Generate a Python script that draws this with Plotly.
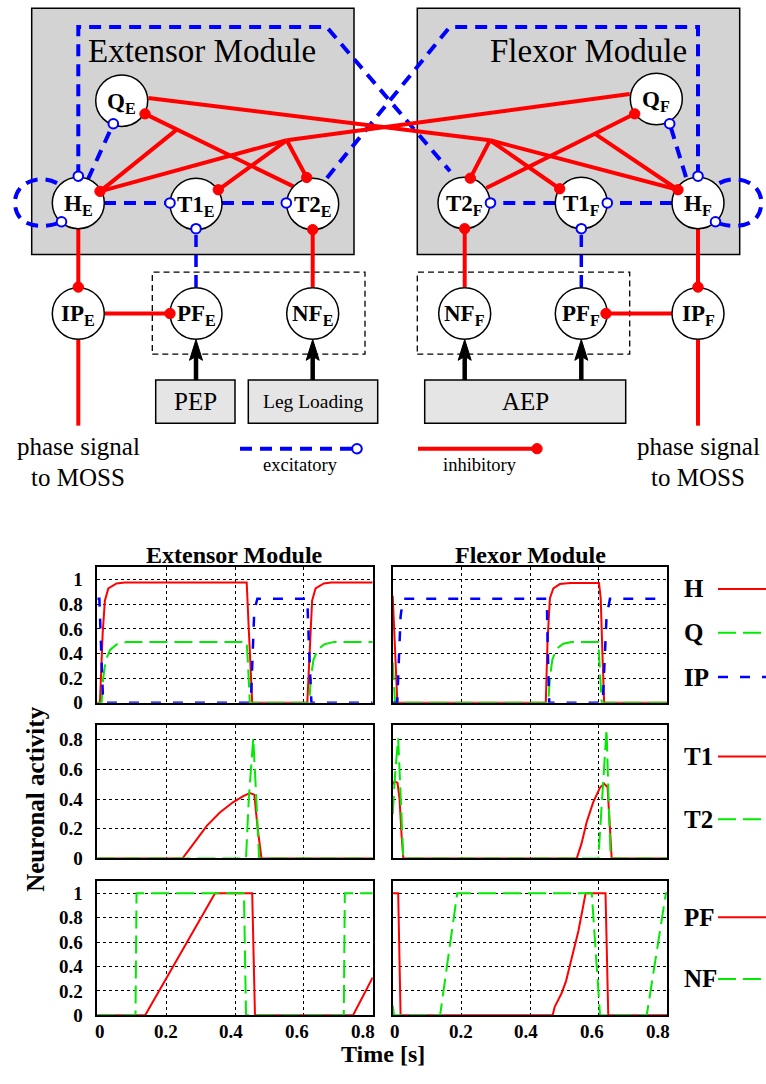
import plotly.graph_objects as go

W, H = 766, 1084

# ---------------- data ----------------
X_TICKS = [0, 0.2, 0.4, 0.6, 0.8]
X_TICK_LABELS = ["0", "0.2", "0.4", "0.6", "0.8"]
Y_TICKS_A = [0, 0.2, 0.4, 0.6, 0.8, 1]
Y_TICK_LABELS_A = ["0", "0.2", "0.4", "0.6", "0.8", "1"]
Y_TICKS_B = [0, 0.2, 0.4, 0.6, 0.8]
Y_TICK_LABELS_B = ["0", "0.2", "0.4", "0.6", "0.8"]

# Extensor module
EXT_H_T = [0, 0.0077, 0.0155, 0.022, 0.032, 0.056, 0.08, 0.434, 0.44, 0.45, 0.61, 0.618, 0.624, 0.634, 0.658, 0.68, 0.8]
EXT_H_V = [0, 0, 0.56, 0.83, 0.93, 0.97, 0.978, 0.978, 0.6, 0, 0, 0.56, 0.83, 0.93, 0.97, 0.978, 0.978]
EXT_Q_T = [0, 0.0126, 0.017, 0.025, 0.037, 0.056, 0.085, 0.434, 0.438, 0.443, 0.616, 0.62, 0.628, 0.64, 0.659, 0.688, 0.8]
EXT_Q_V = [0, 0, 0.2, 0.35, 0.43, 0.475, 0.495, 0.495, 0.3, 0, 0, 0.2, 0.35, 0.43, 0.475, 0.495, 0.495]
EXT_IP_T = [0, 0.006, 0.011, 0.017, 0.446, 0.451, 0.456, 0.465, 0.61, 0.615, 0.622, 0.8]
EXT_IP_V = [0.846, 0.846, 0.45, 0, 0, 0.4, 0.75, 0.846, 0.846, 0.45, 0, 0]
EXT_T1_T = [0, 0.247, 0.27, 0.29, 0.318, 0.356, 0.395, 0.424, 0.443, 0.456, 0.466, 0.477, 0.8]
EXT_T1_V = [0, 0, 0.07, 0.135, 0.22, 0.31, 0.38, 0.42, 0.44, 0.43, 0.2, 0, 0]
EXT_T2_T = [0, 0.432, 0.44, 0.453, 0.462, 0.47, 0.8]
EXT_T2_V = [0, 0, 0.4, 0.81, 0.4, 0, 0]
EXT_PF_T = [0, 0.139, 0.342, 0.45, 0.458, 0.743, 0.8]
EXT_PF_V = [0, 0, 1, 1, 0, 0, 0.31]
EXT_NF_T = [0, 0.111, 0.114, 0.426, 0.432, 0.716, 0.719, 0.8]
EXT_NF_V = [0, 0, 1, 1, 0, 0, 1, 1]

# Flexor module
FLX_H_T = [0, 0.006, 0.0136, 0.446, 0.451, 0.458, 0.468, 0.487, 0.517, 0.601, 0.606, 0.611, 0.616, 0.8]
FLX_H_V = [0.87, 0.5, 0, 0, 0.5, 0.85, 0.93, 0.965, 0.973, 0.973, 0.85, 0.4, 0, 0]
FLX_Q_T = [0, 0.004, 0.007, 0.453, 0.458, 0.465, 0.478, 0.497, 0.521, 0.599, 0.603, 0.609, 0.8]
FLX_Q_V = [0.33, 0.15, 0, 0, 0.2, 0.35, 0.44, 0.48, 0.495, 0.495, 0.3, 0, 0]
FLX_IP_T = [0, 0.013, 0.018, 0.023, 0.03, 0.449, 0.452, 0.456, 0.612, 0.617, 0.623, 0.633, 0.8]
FLX_IP_V = [0, 0, 0.35, 0.7, 0.846, 0.846, 0.4, 0, 0, 0.35, 0.7, 0.846, 0.846]
FLX_T1_T = [0, 0.006, 0.014, 0.02, 0.026, 0.031, 0.536, 0.55, 0.565, 0.584, 0.604, 0.616, 0.626, 0.632, 0.638, 0.8]
FLX_T1_V = [0.5, 0.52, 0.51, 0.4, 0.15, 0, 0, 0.1, 0.244, 0.378, 0.478, 0.504, 0.48, 0.25, 0, 0]
FLX_T2_T = [0, 0.008, 0.016, 0.024, 0.031, 0.599, 0.61, 0.623, 0.629, 0.635, 0.8]
FLX_T2_V = [0.3, 0.6, 0.81, 0.4, 0, 0, 0.4, 0.87, 0.4, 0, 0]
FLX_PF_T = [0, 0.016, 0.023, 0.466, 0.472, 0.48, 0.492, 0.505, 0.516, 0.53, 0.541, 0.552, 0.562, 0.62, 0.628, 0.8]
FLX_PF_V = [1, 1, 0, 0, 0.07, 0.11, 0.18, 0.28, 0.4, 0.55, 0.69, 0.85, 1, 1, 0, 0]
FLX_NF_T = [0, 0.004, 0.138, 0.188, 0.58, 0.604, 0.74, 0.796, 0.8]
FLX_NF_V = [0.08, 0, 0, 1, 1, 0, 0, 1, 1]

# ---------------- styles ----------------
RED = "rgb(255,0,0)"
GREEN = "rgb(0,235,0)"
BLUE = "rgb(0,0,255)"
SERIF = "Liberation Serif"
STY_RED = dict(color=RED, width=2)
STY_GREEN = dict(color=GREEN, width=2, dash="18px,7px")
STY_BLUE = dict(color=BLUE, width=2.5, dash="10px,12px")

COLS = [(97.3, 372.7), (392.7, 667.3)]
ROWS = [(573.3, 710.0), (732.3, 867.3), (890.0, 1025.7)]


def X(px):
    return px / W


def Y(py):
    return 1 - py / H


fig = go.Figure()

panels = {
    (0, 0): [(EXT_H_T, EXT_H_V, STY_RED), (EXT_Q_T, EXT_Q_V, STY_GREEN), (EXT_IP_T, EXT_IP_V, STY_BLUE)],
    (0, 1): [(FLX_H_T, FLX_H_V, STY_RED), (FLX_Q_T, FLX_Q_V, STY_GREEN), (FLX_IP_T, FLX_IP_V, STY_BLUE)],
    (1, 0): [(EXT_T1_T, EXT_T1_V, STY_RED), (EXT_T2_T, EXT_T2_V, STY_GREEN)],
    (1, 1): [(FLX_T1_T, FLX_T1_V, STY_RED), (FLX_T2_T, FLX_T2_V, STY_GREEN)],
    (2, 0): [(EXT_PF_T, EXT_PF_V, STY_RED), (EXT_NF_T, EXT_NF_V, STY_GREEN)],
    (2, 1): [(FLX_PF_T, FLX_PF_V, STY_RED), (FLX_NF_T, FLX_NF_V, STY_GREEN)],
}

shapes = []
annotations = []


def add_text(x, y, text, size, bold=False, anchor="center"):
    font = dict(family=SERIF, size=size, color="black")
    if bold:
        font["weight"] = "bold"
    annotations.append(dict(xref="paper", yref="paper", x=X(x), y=Y(y), text=text,
                            showarrow=False, xanchor=anchor, yanchor="middle", font=font))


TICKFONT = dict(family=SERIF, size=19, color="black", weight="bold")
layout_axes = {}
for (r, c), series in panels.items():
    k = r * 2 + c + 1
    xs = "x" if k == 1 else f"x{k}"
    ys = "y" if k == 1 else f"y{k}"
    for t, v, sty in series:
        fig.add_trace(go.Scatter(x=t, y=v, mode="lines", line=sty, xaxis=xs, yaxis=ys,
                                 showlegend=False, hoverinfo="skip"))
    x0, x1 = COLS[c]
    y0, y1 = ROWS[r]
    common = dict(showline=True, mirror=True, linecolor="black", linewidth=1.5,
                  showgrid=True, gridcolor="black", griddash="dot", gridwidth=1,
                  zeroline=False, ticks="", tickfont=TICKFONT, fixedrange=True)
    layout_axes["xaxis" if k == 1 else f"xaxis{k}"] = dict(
        domain=[X(x0), X(x1)], range=[0, 0.8], anchor=ys,
        tickvals=X_TICKS, showticklabels=False, **common)
    if r == 2:
        # x tick labels, placed on the axis scale; the reference squeezes them slightly inwards
        for tv, tl in zip(X_TICKS, X_TICK_LABELS):
            annotations.append(dict(xref=xs, yref="paper", x=tv, y=Y(1041.7), text=tl,
                                    showarrow=False, xanchor="center", yanchor="middle",
                                    xshift=2.5 - 15.3 * tv, font=TICKFONT))
    yt, yl = (Y_TICKS_B, Y_TICK_LABELS_B) if r == 1 else (Y_TICKS_A, Y_TICK_LABELS_A)
    layout_axes["yaxis" if k == 1 else f"yaxis{k}"] = dict(
        domain=[Y(y1), Y(y0)], range=[0, 0.9] if r == 1 else [0, 1.1], anchor=xs,
        tickvals=yt, ticktext=yl, showticklabels=(c == 0), ticklabelstandoff=9, **common)

# ---------------- diagram helpers ----------------


def pathstr(pts, closed=False):
    s = "M " + " L ".join(f"{X(a):.5f},{Y(b):.5f}" for a, b in pts)
    return s + (" Z" if closed else "")


def add_line(pts, color, width, dash=None):
    ln = dict(color=color, width=width)
    if dash:
        ln["dash"] = dash
    shapes.append(dict(type="path", xref="paper", yref="paper", path=pathstr(pts), line=ln,
                       layer="above"))


def add_curve(path, color, width, dash=None):
    shapes.append(dict(type="path", xref="paper", yref="paper", path=path,
                       line=dict(color=color, width=width, dash=dash), layer="above"))


def add_circle(cx, cy, r, fill, lc, lw):
    shapes.append(dict(type="circle", xref="paper", yref="paper",
                       x0=X(cx - r), x1=X(cx + r), y0=Y(cy + r), y1=Y(cy - r),
                       fillcolor=fill, line=dict(color=lc, width=lw), layer="above"))


def add_rect(x0, y0, x1, y1, fill, lc, lw, dash=None):
    ln = dict(color=lc, width=lw)
    if dash:
        ln["dash"] = dash
    shapes.append(dict(type="rect", xref="paper", yref="paper",
                       x0=X(x0), x1=X(x1), y0=Y(y1), y1=Y(y0),
                       fillcolor=fill, line=ln, layer="above"))


def curve(cmds):
    out = []
    for cmd in cmds:
        op, pts = cmd[0], cmd[1:]
        out.append(op + " " + " ".join(f"{X(a):.5f},{Y(b):.5f}" for a, b in pts))
    return " ".join(out)


BDASH = "12px,8px"
R_NODE = 26

# module boxes
add_rect(31.7, 8.3, 354, 257, "rgb(211,211,211)", "black", 1.5)
add_rect(417.3, 8.3, 739.7, 257, "rgb(211,211,211)", "black", 1.5)
# sensory dashed boxes
add_rect(152.3, 275, 365, 357.7, "rgba(0,0,0,0)", "black", 1.3, "6px,4px")
add_rect(417.3, 275, 629.7, 357.7, "rgba(0,0,0,0)", "black", 1.3, "6px,4px")
# input boxes
add_rect(155.7, 384, 235, 427.7, "rgb(229,229,229)", "black", 1.5)
add_rect(248.3, 384, 377.7, 427.7, "rgb(229,229,229)", "black", 1.5)
add_rect(424.7, 384, 625.7, 427.7, "rgb(229,229,229)", "black", 1.5)

# ---- excitatory (blue dashed) ----
add_line([(78.3, 178), (78.3, 27.3), (326.7, 27.3), (450, 173)], BLUE, 4, BDASH)
add_line([(698, 178), (698, 27.3), (449.7, 27.3), (326.7, 180)], BLUE, 4, BDASH)
add_line([(88, 181), (113.3, 125)], BLUE, 4, BDASH)
add_line([(686, 179), (669.7, 125)], BLUE, 4, BDASH)
add_line([(104, 205), (170, 205)], BLUE, 4, BDASH)
add_line([(222, 205), (286.3, 205)], BLUE, 4, BDASH)
add_line([(672, 205), (607.3, 205)], BLUE, 4, BDASH)
add_line([(555.3, 205), (490.5, 205)], BLUE, 4, BDASH)
add_line([(196, 290), (196, 232)], BLUE, 3.5, BDASH)
add_line([(581.3, 290), (581.3, 231)], BLUE, 3.5, BDASH)
add_curve(curve([("M", (57, 185)), ("C", (38, 175), (14, 185), (15, 206)),
                 ("C", (16, 226), (35, 233), (60, 225))]), BLUE, 4, "12px,8px")
add_curve(curve([("M", (719.3, 185)), ("C", (738.3, 175), (762.3, 185), (761.3, 206)),
                 ("C", (760.3, 226), (741.3, 233), (716.3, 225))]), BLUE, 4, "12px,8px")
add_line([(240, 453.3), (352, 453.3)], BLUE, 4, "12px,8px")

# ---- inhibitory (red) ----
J_E = (286.7, 141.7)
J_F = (490, 141.7)
red_lines = [
    [(148.3, 99), J_F], [(629.7, 95), J_E],
    [J_E, (100, 193.3)], [J_E, (218.3, 191.7)], [J_E, (306.7, 179.3)],
    [J_F, (678, 191.7)], [J_F, (559.7, 190.7)], [J_F, (470.3, 180)],
    [(293.3, 188.3), (145, 115)], [(176.7, 131), (100, 193.3)],
    [(486.3, 190), (634.7, 115)], [(594.7, 135), (678, 191.7)],
    [(78.3, 231), (78.3, 290)], [(78.3, 343), (78.3, 430)], [(105, 316.7), (170, 316.7)],
    [(312.7, 290), (312.7, 232)],
    [(698, 231), (698, 290)], [(698, 343), (698, 430)], [(672, 316.7), (606, 316.7)],
    [(464.7, 290), (464.7, 231)],
    [(418, 453.3), (537, 453.3)],
]
for pts in red_lines:
    add_line(pts, RED, 4)

# nodes
nodes = [
    (121.7, 101.7, "Q", "E"), (78.3, 205, "H", "E"), (196, 206, "T1", "E"), (312.7, 206, "T2", "E"),
    (656.3, 100, "Q", "F"), (464, 205, "T2", "F"), (581.3, 205, "T1", "F"), (698, 205, "H", "F"),
    (78.3, 316.7, "IP", "E"), (196, 316.7, "PF", "E"), (312.7, 316.7, "NF", "E"),
    (464.7, 316.7, "NF", "F"), (581.3, 316.7, "PF", "F"), (698, 316.7, "IP", "F"),
]
for cx, cy, name, sub in nodes:
    add_circle(cx, cy, R_NODE, "white", "black", 1.5)
    add_text(cx, cy + 2, f"<b>{name}<sub>{sub}</sub></b>", 23, bold=True)

# red dots (inhibitory synapses)
red_dots = [(145, 115), (100, 193.3), (218.3, 191.7), (306.7, 179.3), (634.7, 115),
            (678, 191.7), (559.7, 190.7), (470.3, 180), (78.3, 290), (170, 316.7),
            (312.7, 232), (698, 290), (606, 316.7), (464.7, 231), (537, 453.3)]
for cx, cy in red_dots:
    add_circle(cx, cy, 5.2, RED, RED, 1)

# open blue circles (excitatory synapses)
open_dots = [(78.3, 178), (113.3, 125), (61.5, 224), (170, 205), (286.3, 205), (196, 231),
             (698, 178), (669.7, 125), (715.5, 224), (607.3, 205), (490.5, 205), (581.3, 231),
             (357, 453.3)]
for cx, cy in open_dots:
    add_circle(cx, cy, 4.8, "white", BLUE, 2)

# black arrows from the input boxes
for ax in (196, 312.7, 464.7, 581.3):
    add_line([(ax, 384), (ax, 360)], "black", 4.5)
    shapes.append(dict(type="path", xref="paper", yref="paper",
                       path=pathstr([(ax, 343), (ax - 6.5, 364), (ax, 360), (ax + 6.5, 364)], closed=True),
                       fillcolor="black", line=dict(color="black", width=1), layer="above"))

# diagram texts
add_text(201.5, 52, "Extensor Module", 33)
add_text(588, 52, "Flexor Module", 33)
add_text(195.3, 406, "PEP", 25)
add_text(313, 406, "Leg Loading", 19.5)
add_text(525.2, 406, "AEP", 25)
for px in (78, 698):
    add_text(px, 451, "phase signal", 25)
    add_text(px, 482, "to MOSS", 25)
add_text(300, 470, "excitatory", 18.5)
add_text(480, 470, "inhibitory", 18.5)

# ---------------- plot texts ----------------
add_text(235, 561, "Extensor Module", 24, bold=True)
add_text(530, 561, "Flexor Module", 24, bold=True)
add_text(382.5, 1065, "Time [s]", 24, bold=True)
annotations.append(dict(xref="paper", yref="paper", x=X(36), y=Y(808), text="Neuronal activity",
                        textangle=-90, showarrow=False, xanchor="center", yanchor="middle",
                        font=dict(family=SERIF, size=25, color="black", weight="bold")))

legend_items = [("H", 595, STY_RED), ("Q", 639.3, STY_GREEN), ("IP", 684, STY_BLUE),
                ("T1", 764.3, STY_RED), ("T2", 827.7, STY_GREEN),
                ("PF", 926.7, STY_RED), ("NF", 989, STY_GREEN)]
for label, ly, sty in legend_items:
    add_text(681.7, ly, label, 25, bold=True, anchor="left")
    add_line([(718, ly), (772, ly)], sty["color"], sty["width"], sty.get("dash"))

fig.update_layout(
    width=W, height=H, margin=dict(l=0, r=0, t=0, b=0),
    paper_bgcolor="white", plot_bgcolor="rgba(0,0,0,0)",
    shapes=shapes, annotations=annotations, showlegend=False,
    **layout_axes,
)

fig.write_html("out.html")
